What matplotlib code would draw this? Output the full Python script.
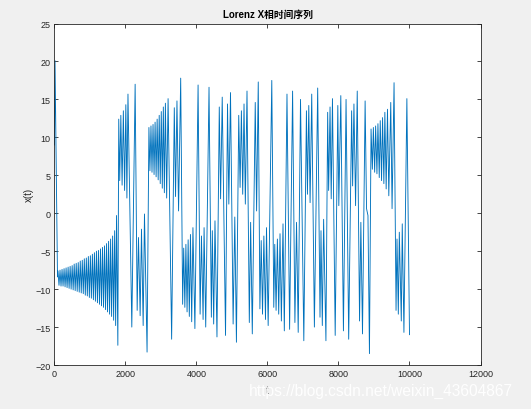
import matplotlib
matplotlib.use('Agg')
import matplotlib.pyplot as plt

# turning points of x(t) (time step, value)
t_ext = [0, 15, 85,
         # spiral round the left wing
         99, 127, 156, 184, 213, 241, 270, 298, 327, 355, 384, 412, 441, 469, 498, 526,
         555, 583, 612, 640, 669, 697, 726, 754, 783, 811, 840, 868, 897, 925, 954, 982,
         1011, 1039, 1068, 1096, 1125, 1153, 1182, 1210, 1239, 1267, 1296, 1324, 1353, 1381,
         1410, 1438, 1467, 1495, 1524, 1552, 1581, 1609, 1638, 1666, 1695, 1723, 1748, 1785,
         1810, 1838, 1869, 1905, 1940, 1975, 2010, 2040, 2070, 2178, 2272,
         2329, 2366, 2413, 2451, 2498, 2535, 2608,
         2660, 2689, 2718, 2747, 2776, 2805, 2834, 2863, 2892, 2921, 2950, 2979, 3008, 3037,
         3066, 3095, 3124, 3160, 3200, 3300, 3375, 3410, 3450, 3495, 3555,
         3610, 3640, 3672, 3702, 3735, 3765, 3798, 3830, 3865, 3900, 3955, 4045,
         4102, 4140, 4186, 4214, 4260, 4353, 4419, 4446, 4484, 4521, 4577, 4642, 4679, 4725,
         4818, 4874, 4911, 4958, 5032, 5079, 5125, 5190, 5228, 5265, 5302, 5339, 5376, 5423,
         5488, 5525, 5572, 5655, 5693, 5740,
         5786, 5823, 5860, 5898, 5944, 5972, 6019, 6121, 6177, 6205, 6242, 6279, 6316, 6353,
         6391, 6437, 6474, 6549, 6623, 6707, 6772, 6818, 6865, 6930, 7023, 7097, 7125, 7163,
         7200, 7246, 7321, 7414, 7479, 7507, 7544, 7581, 7646,
         7695, 7722, 7762, 7795, 7830, 7907, 7981, 8009, 8065, 8139, 8213, 8287, 8370, 8398,
         8435, 8481, 8528, 8593, 8630, 8676, 8750, 8790, 8830, 8872,
         8917, 8954, 8982, 9019, 9046, 9083, 9111, 9148, 9176, 9213, 9241, 9278, 9306, 9343,
         9380, 9417, 9472, 9509, 9565, 9621, 9648, 9685, 9713, 9769, 9796, 9843, 9926, 10000]

x_ext = [9.0, 20.1, -8.4,
         -7.6, -9.5, -7.5, -9.6, -7.4, -9.6, -7.3, -9.7, -7.2, -9.8, -7.1, -9.9, -7.0, -10.0, -6.9, -10.1,
         -6.7, -10.2, -6.6, -10.3, -6.5, -10.4, -6.3, -10.5, -6.2, -10.6, -6.0, -10.8, -5.9, -10.9, -5.7, -11.1,
         -5.6, -11.2, -5.4, -11.4, -5.2, -11.6, -5.0, -11.8, -4.9, -12.0, -4.7, -12.2, -4.5, -12.4,
         -4.3, -12.7, -4.0, -13.0, -3.7, -13.3, -3.4, -13.6, -3.0, -14.1, -2.3, -14.8, -0.3, -17.4,
         12.4, 4.3, 12.9, 3.7, 13.5, 3.0, 14.3, 2.0, 15.7, -15.0, 17.0,
         -12.8, -3.2, -13.5, -2.1, -14.8, -0.1, -18.3,
         11.3, 5.6, 11.5, 5.4, 11.7, 5.1, 12.0, 4.8, 12.4, 4.4, 12.9, 3.9, 13.4, 3.3,
         14.0, 2.7, 14.5, 2.0, 15.1, -16.6, 13.9, 2.2, 14.8, 0.3, 17.8,
         -12.0, -4.6, -12.4, -4.1, -13.0, -3.5, -13.6, -2.8, -14.3, -1.9, -15.2, 16.9,
         -13.3, -3.0, -14.0, -1.9, -15.0, 16.6, -13.7, -2.3, -14.6, -1.0, -16.3, 14.0, 1.9, 15.3,
         -16.1, 14.4, 1.2, 15.9, -14.6, -0.5, -17.0, 12.9, 3.4, 13.5, 2.5, 14.4, 1.2, 16.1,
         -14.4, -1.2, -15.9, 14.6, 0.3, 17.3,
         -12.6, -3.6, -13.3, -3.0, -14.0, -1.9, -14.8, 17.5, -12.4, -4.1, -12.8, -3.4, -13.3, -2.7,
         -14.2, -1.4, -15.5, 15.7, -15.3, 16.1, -14.4, -1.2, -15.7, 15.0, -16.8, 13.5, 2.5, 14.2,
         1.4, 15.7, -15.0, 16.5, -13.7, -2.3, -14.8, -0.8, -16.8,
         13.3, 3.0, 14.0, 1.9, 15.1, -16.1, 14.2, 1.0, 15.5, -15.5, 15.0, -16.6, 13.5, 3.6,
         14.4, 1.0, 16.1, -14.2, -1.2, -15.9, 14.8, 0.6, -0.3, -18.5,
         11.1, 5.8, 11.3, 5.4, 11.5, 5.2, 11.8, 4.7, 12.2, 4.3, 12.6, 3.9, 13.3, 3.2,
         13.7, 2.3, 14.6, 0.6, 17.2, -12.8, -3.4, -13.3, -2.5, -14.2, -1.4, -15.7, 15.1, -16.0]

x_ticks = [0, 2000, 4000, 6000, 8000, 10000, 12000]
y_ticks = [-20, -15, -10, -5, 0, 5, 10, 15, 20, 25]

fam = ['Liberation Sans', 'Noto Sans CJK SC', 'DejaVu Sans']
plt.rcParams['font.family'] = fam

fig = plt.figure(figsize=(5.31, 4.10), dpi=100, facecolor='#f0f0f0')
ax = fig.add_axes([0.1026, 0.1073, 0.8023, 0.8329])
ax.plot(t_ext, x_ext, color='#0072bd', lw=0.65)

ax.set_xlim(0, 12000)
ax.set_ylim(-20, 25)
ax.set_xticks(x_ticks)
ax.set_yticks(y_ticks)
ax.tick_params(direction='in', length=3, width=0.6, colors='#262626',
               labelsize=6.5, top=True, right=True, pad=3)
for s in ax.spines.values():
    s.set_color('#262626')
    s.set_linewidth(0.6)

ax.set_title('Lorenz X相时间序列', fontsize=7, fontweight='bold', color='black', pad=5)
ax.set_xlabel('t', fontsize=7, color='#262626', labelpad=5)
ax.set_ylabel('x(t)', fontsize=7, color='#262626', labelpad=1)

# csdn watermark, it sits over the "t" label in the original too
fig.text(0.966, 0.045, 'https://blog.csdn.net/weixin_43604867', ha='right', va='center',
         fontsize=11.2, color='white', alpha=0.95)

fig.savefig('out.png', dpi=100, facecolor=fig.get_facecolor())
